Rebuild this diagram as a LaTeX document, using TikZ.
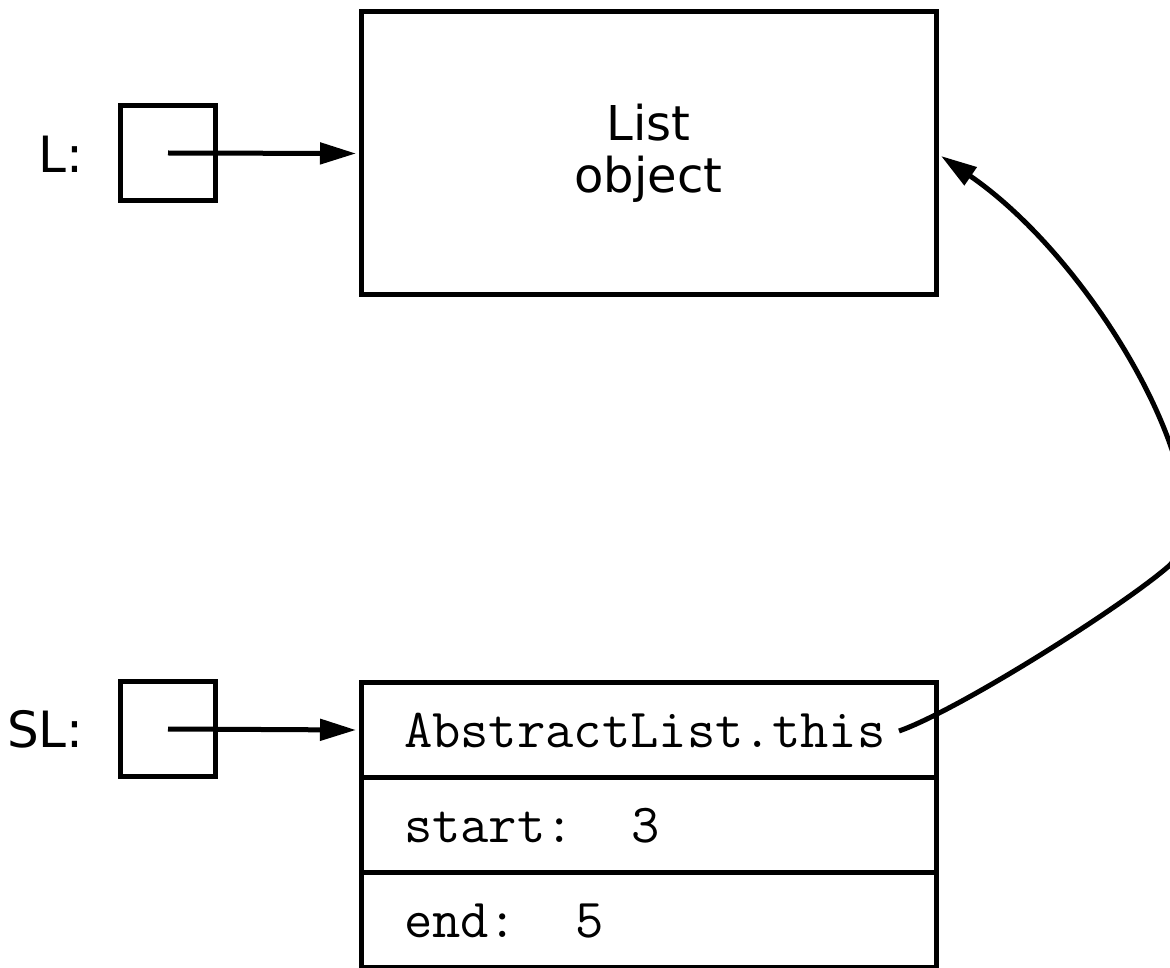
\documentclass[tikz,border=0pt]{standalone}
\usepackage{fontspec}
\newfontfamily\handfont{DejaVu Sans}
\usetikzlibrary{arrows.meta,calc}
\begin{document}
\begin{tikzpicture}[x=1pt,y=-1pt, line width=5pt,
  ptr/.style={draw, minimum width=95pt, minimum height=95pt, inner sep=0pt},
  lbl/.style={font=\handfont\fontsize{50}{50}\selectfont, anchor=base east, inner sep=0pt},
  objbox/.style={draw, minimum width=575pt, minimum height=283pt, align=center, inner sep=0pt, font=\handfont\fontsize{48}{52}\selectfont},
  row/.style={draw, text width=489pt, inner xsep=43pt, inner ysep=0pt, minimum height=95pt, align=left, text height=34pt, text depth=0pt, font=\ttfamily\fontsize{55}{60}\selectfont},
  arr/.style={-{Triangle[length=36pt,width=21pt]}}]
\useasboundingbox (0,0) rectangle (1170,968);

\node[ptr] (Lbox) at (168,153) {};
\node[lbl] (Llbl) at (86,173) {L:};
\node[objbox] (List) at (648.5,153.5) {List\\object};

\node[ptr] (Sbox) at (168,729) {};
\node[lbl] (Slbl) at (86,747) {SL:};
\node[row] (r1) at (648.5,730) {AbstractList.this};
\node[row] (r2) at (648.5,825) {start:\hspace{1.05em}3};
\node[row] (r3) at (648.5,920) {end:\hspace{1.05em}5};

\draw[arr] (Lbox.center) -- ([xshift=-2.5pt]List.west);
\draw[arr] (Sbox.center) -- ([xshift=-2.5pt]r1.west);

\coordinate (c0) at (899,731);
\coordinate (c1) at (1170,565);
\draw[arr] (c0) .. controls (959,710) and (1125,605) .. (c1)
  .. controls (1230,500) and (1100,265) .. ($(List.east)+(2.5,2.5)$);
\end{tikzpicture}
\end{document}
